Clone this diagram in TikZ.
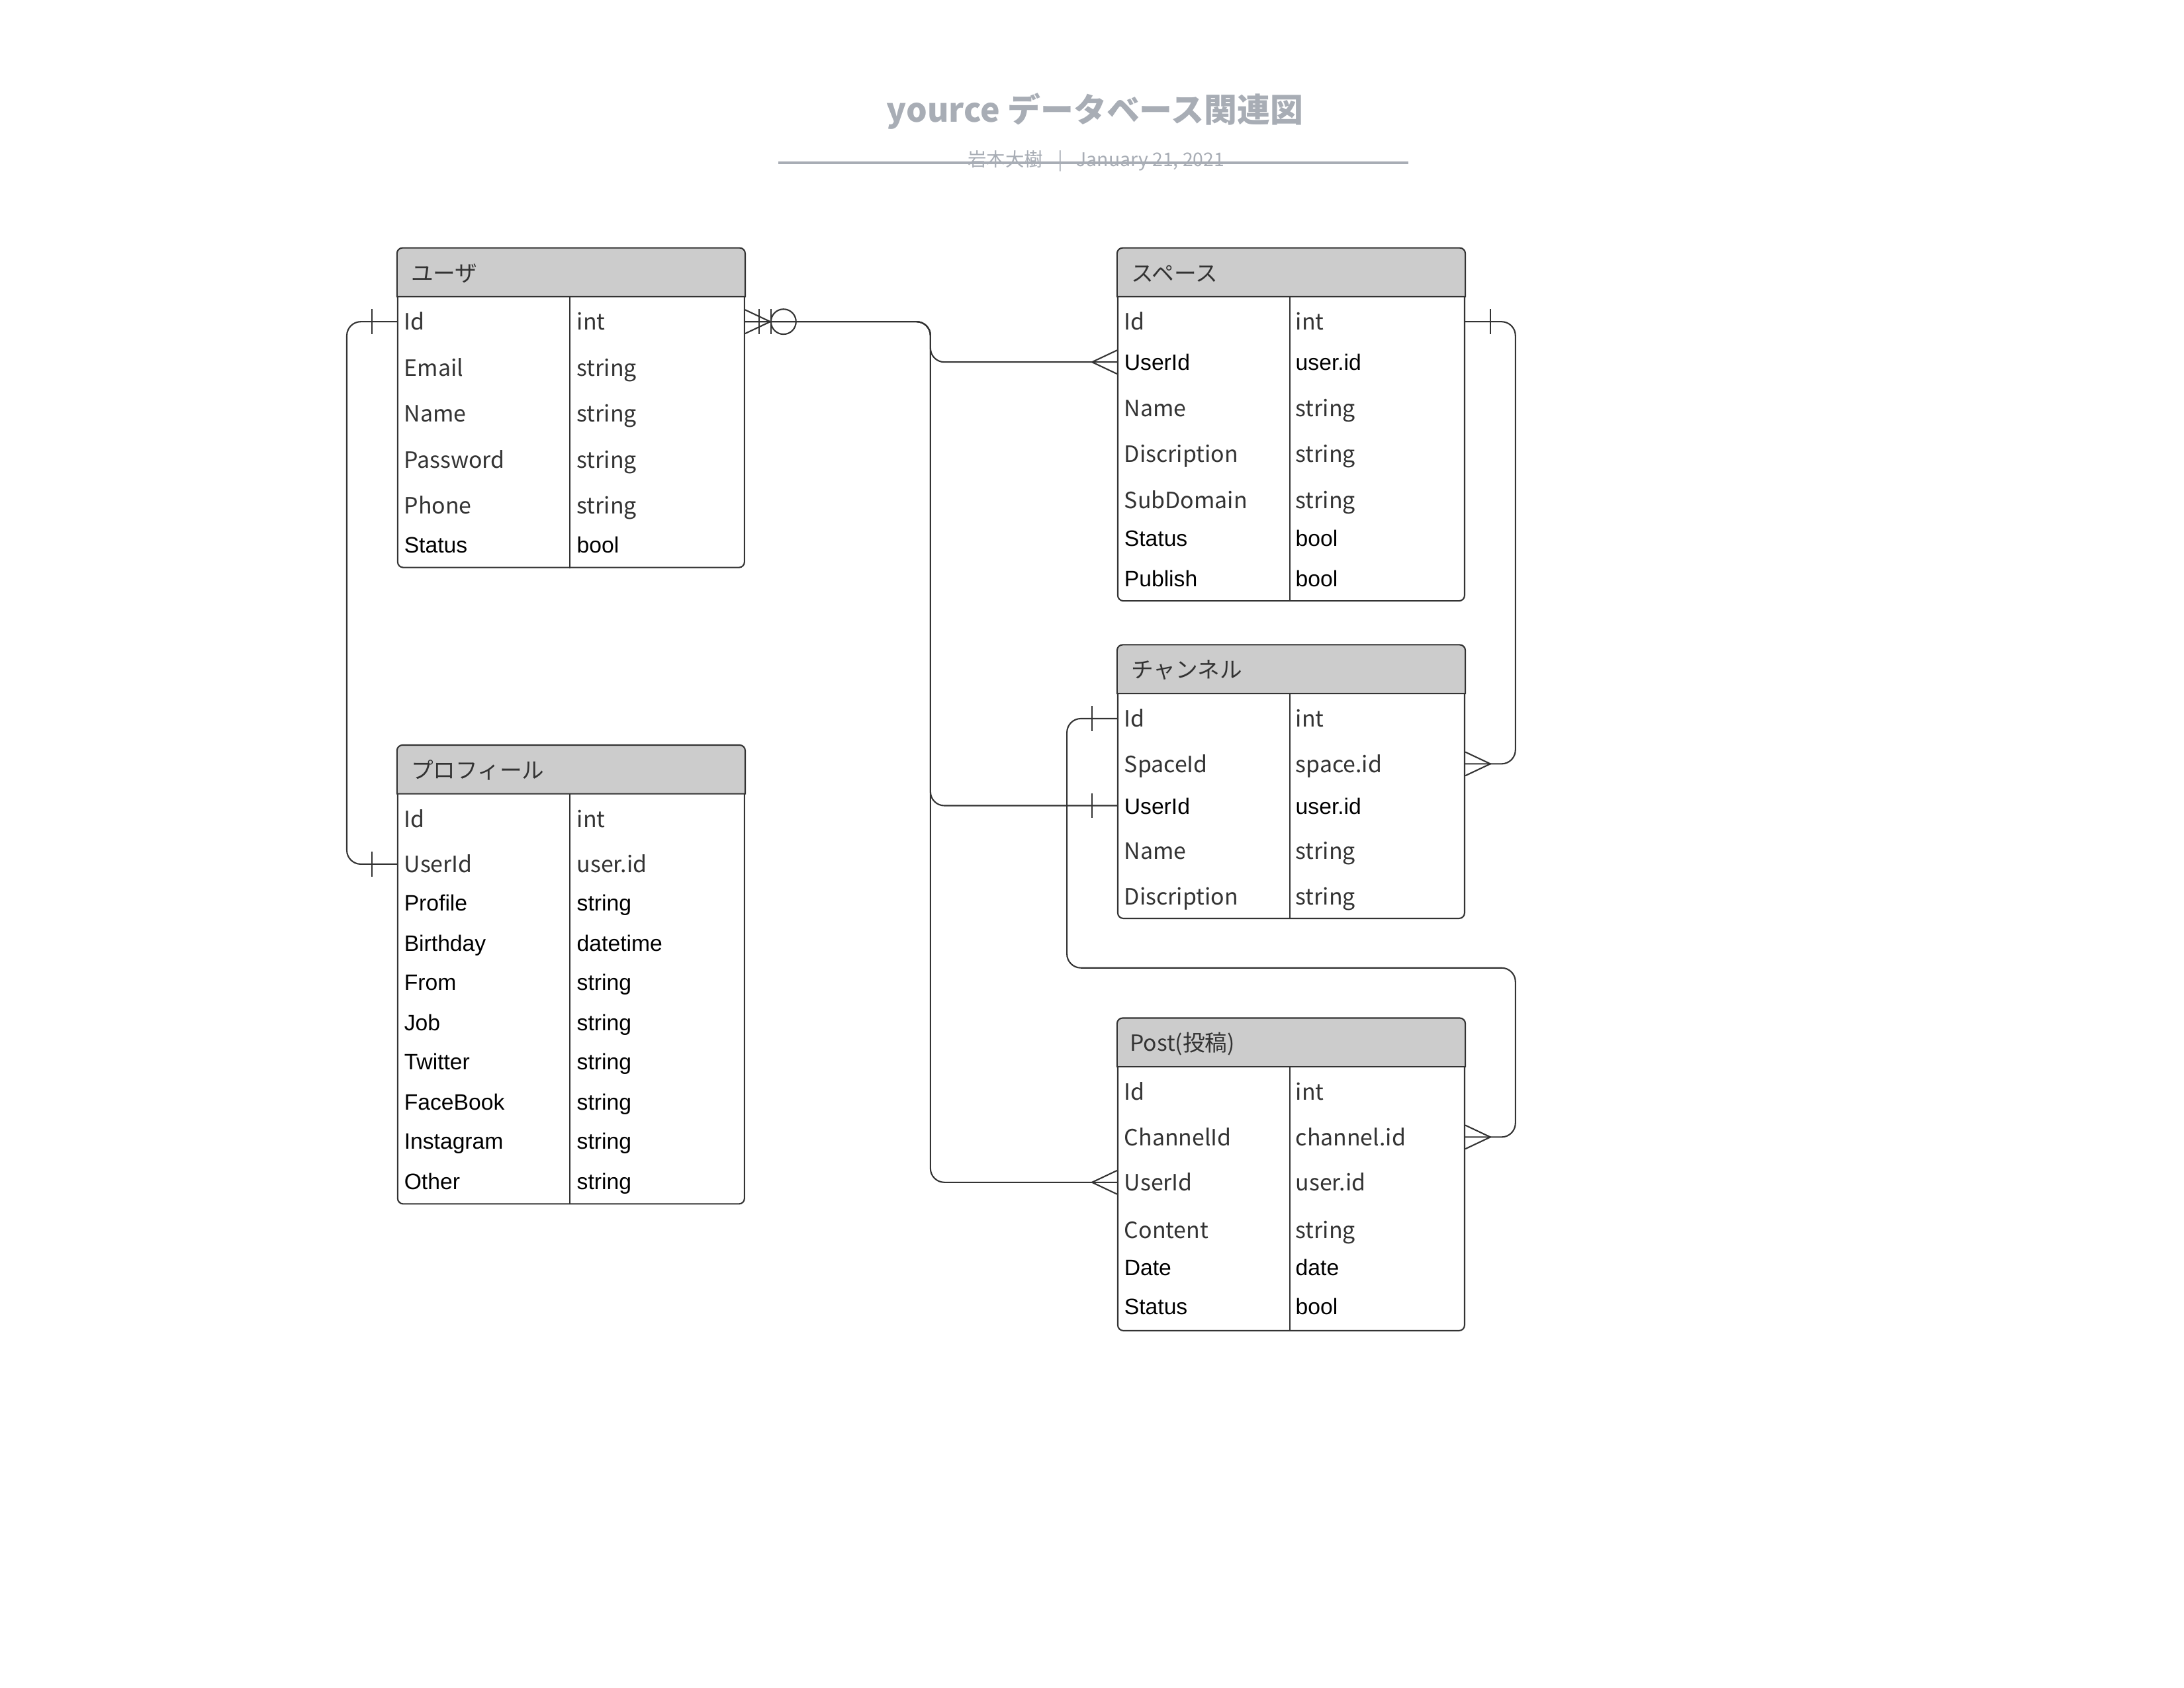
\documentclass[tikz,border=0pt]{standalone}
\usepackage{fontspec}
\setmainfont{Liberation Sans}
\newfontfamily\jpfont{Noto Sans CJK JP}
\usetikzlibrary{calc}
\definecolor{linec}{HTML}{333333}
\definecolor{txtgray}{HTML}{333333}
\definecolor{hdrgray}{HTML}{CCCCCC}
\definecolor{ttlgray}{HTML}{A8ADB5}

\tikzset{
  conn/.style={draw=linec, line width=1pt},
  tbl/.style={draw=linec, line width=1pt, rounded corners=4pt, minimum width=249pt, anchor=north west, inner sep=0pt},
  hdr/.style={draw=linec, line width=1pt, fill=hdrgray},
  htxt/.style={anchor=base west, inner sep=0pt, text=txtgray, font=\jpfont\fontsize{16}{19}\selectfont},
  gcell/.style={anchor=base west, inner sep=0pt, text=txtgray, font=\jpfont\fontsize{16.1}{19}\selectfont},
  bcell/.style={anchor=base west, inner sep=0pt, text=black, font=\fontsize{16}{19}\selectfont},
  zero/.style={draw=linec, line width=1pt, circle, minimum size=18pt, inner sep=0pt},
  one/.pic={\draw[conn] (0,-9) -- (0,9);},
  many/.pic={\draw[conn] (0,-8.5) -- (18,0) -- (0,8.5);},
}

% header band + column rule of an entity box
\newcommand\erhead[1]{%
  \filldraw[hdr] ([yshift=-35pt]#1.north west) -- ([yshift=-4pt]#1.north west)
    arc[start angle=180, end angle=90, radius=4pt] -- ([xshift=-4pt]#1.north east)
    arc[start angle=90, end angle=0, radius=4pt] -- ([yshift=-35pt]#1.north east) -- cycle;
  \draw[conn] ([xshift=124pt,yshift=-35pt]#1.north west) -- ([xshift=124pt]#1.south west);}

\begin{document}
\begin{tikzpicture}[x=1pt,y=-1pt]
  \useasboundingbox (0,0) rectangle (1568,1212);

  % title
  \node[font=\jpfont\bfseries\fontsize{23.7}{28}\selectfont, text=ttlgray] (title) at (786,80) {yource データベース関連図};
  \node[font=\jpfont\fontsize{13.5}{16}\selectfont, text=ttlgray] (byline) at (787,115.5) {岩本大樹\hspace{0.8em}|\hspace{0.7em}January 21, 2021};
  \draw[ttlgray, line width=2pt] (559,117) -- (1011,117);

  % ユーザ
  \node[tbl, minimum height=229pt] (user) at (285,178) {};
  \erhead{user}
  \node[htxt] (userh) at (295,202) {ユーザ};
  \foreach \n/\y/\a/\t/\s in {1/231/Id/int/gcell, 2/264/Email/string/gcell, 3/297/Name/string/gcell,
      4/330/Password/string/gcell, 5/363/Phone/string/gcell, 6/391/Status/bool/bcell} {
    \coordinate (u\n) at (285,\y);
    \node[\s] (u\n-a) at (290,\y+6) {\a};
    \node[\s] (u\n-t) at (414,\y+6) {\t};
  }

  % プロフィール
  \node[tbl, minimum height=329pt] (prof) at (285,535) {};
  \erhead{prof}
  \node[htxt] (profh) at (295,559) {プロフィール};
  \foreach \n/\y/\a/\t/\s in {1/588/Id/int/gcell, 2/620.5/UserId/user.id/gcell, 3/648/Profile/string/bcell,
      4/677/Birthday/datetime/bcell, 5/705/From/string/bcell, 6/734/Job/string/bcell,
      7/762/Twitter/string/bcell, 8/791/FaceBook/string/bcell, 9/819/Instagram/string/bcell,
      10/848/Other/string/bcell} {
    \coordinate (p\n) at (285,\y);
    \node[\s] (p\n-a) at (290,\y+6) {\a};
    \node[\s] (p\n-t) at (414,\y+6) {\t};
  }

  % スペース
  \node[tbl, minimum height=253pt] (space) at (802,178) {};
  \erhead{space}
  \node[htxt] (spaceh) at (812,202) {スペース};
  \foreach \n/\y/\a/\t/\s in {1/231/Id/int/gcell, 2/260/UserId/user.id/bcell, 3/293/Name/string/gcell,
      4/326/Discription/string/gcell, 5/359/SubDomain/string/gcell, 6/386/Status/bool/bcell,
      7/415/Publish/bool/bcell} {
    \coordinate (s\n) at (802,\y);
    \node[\s] (s\n-a) at (807,\y+6) {\a};
    \node[\s] (s\n-t) at (930,\y+6) {\t};
  }

  % チャンネル
  \node[tbl, minimum height=196pt] (chan) at (802,463) {};
  \erhead{chan}
  \node[htxt] (chanh) at (812,487) {チャンネル};
  \foreach \n/\y/\a/\t/\s in {1/516/Id/int/gcell, 2/548.5/SpaceId/space.id/gcell, 3/578.5/UserId/user.id/bcell,
      4/611/Name/string/gcell, 5/644/Discription/string/gcell} {
    \coordinate (c\n) at (802,\y);
    \node[\s] (c\n-a) at (807,\y+6) {\a};
    \node[\s] (c\n-t) at (930,\y+6) {\t};
  }

  % Post
  \node[tbl, minimum height=224pt] (post) at (802,731) {};
  \erhead{post}
  \node[htxt] (posth) at (811,755) {Post(投稿)};
  \foreach \n/\y/\a/\t/\s in {1/784/Id/int/gcell, 2/816.5/ChannelId/channel.id/gcell, 3/849/UserId/user.id/gcell,
      4/883/Content/string/gcell, 5/910/Date/date/bcell, 6/938/Status/bool/bcell} {
    \coordinate (q\n) at (802,\y);
    \node[\s] (q\n-a) at (807,\y+6) {\a};
    \node[\s] (q\n-t) at (930,\y+6) {\t};
  }

  % user -> space / channel / post
  \coordinate (ujoin) at (668,231);
  \draw[conn, rounded corners=10pt] (user.east |- u1) -- (ujoin) |- (space.west |- s2);
  \draw[conn, rounded corners=10pt] (user.east |- u1) -- (ujoin) |- (chan.west |- c3);
  \draw[conn, rounded corners=10pt] (user.east |- u1) -- (ujoin) |- (post.west |- q3);
  \pic at (user.east |- u1) {many};
  \pic at ($(user.east |- u1)+(10,0)$) {one};
  \pic at ($(user.east |- u1)+(18.5,0)$) {one};
  \node[zero] (uzero) at ($(user.east |- u1)+(27.5,0)$) {};
  \pic[rotate=180] at (space.west |- s2) {many};
  \pic at ($(chan.west |- c3)+(-18,0)$) {one};
  \pic[rotate=180] at (post.west |- q3) {many};

  % user -> profile
  \draw[conn, rounded corners=10pt] (user.west |- u1) -- ++(-36,0) |- (prof.west |- p2);
  \pic at ($(user.west |- u1)+(-18,0)$) {one};
  \pic at ($(prof.west |- p2)+(-18,0)$) {one};

  % space -> channel
  \draw[conn, rounded corners=10pt] (space.east |- s1) -- ++(36,0) |- (chan.east |- c2);
  \pic at ($(space.east |- s1)+(18,0)$) {one};
  \pic at (chan.east |- c2) {many};

  % channel -> post
  \coordinate (cdrop) at (766,695);
  \draw[conn, rounded corners=10pt] (chan.west |- c1) -| (cdrop) -| ($(post.east |- q2)+(36,0)$) -- (post.east |- q2);
  \pic at ($(chan.west |- c1)+(-18,0)$) {one};
  \pic at (post.east |- q2) {many};
\end{tikzpicture}
\end{document}
